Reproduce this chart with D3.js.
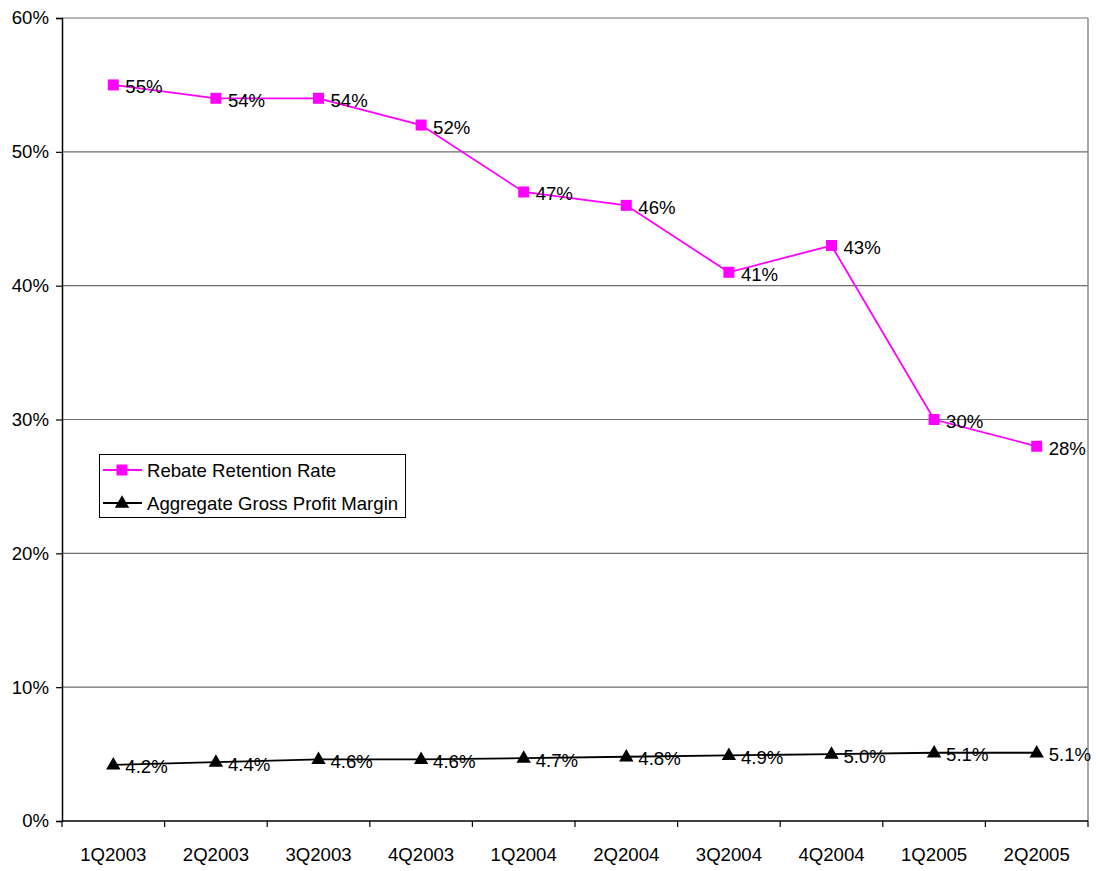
<!DOCTYPE html>
<html>
<head>
<meta charset="utf-8">
<script src="https://cdn.jsdelivr.net/npm/d3@7"></script>
<style>
  html, body { margin: 0; padding: 0; background: #fff; }
  svg { display: block; font-family: "Liberation Sans", Arial, sans-serif; }
</style>
</head>
<body>
<svg id="chart" width="1096" height="871"></svg>
<script>
// Quarterly periods
const quarters = ["1Q2003", "2Q2003", "3Q2003", "4Q2003", "1Q2004", "2Q2004", "3Q2004", "4Q2004", "1Q2005", "2Q2005"];
// Rebate retention rate (%)
const rebateRetention = [55, 54, 54, 52, 47, 46, 41, 43, 30, 28];
// Aggregate gross profit margin (%)
const grossMargin = [4.2, 4.4, 4.6, 4.6, 4.7, 4.8, 4.9, 5.0, 5.1, 5.1];
// Y axis ticks (%)
const yTicks = [0, 10, 20, 30, 40, 50, 60];
const seriesNames = ["Rebate Retention Rate", "Aggregate Gross Profit Margin"];

const svg = d3.select("#chart");
const plotLeft = 62, plotRight = 1088, plotTop = 18, plotBottom = 821;
const fontSize = 18.6;

const x = d3.scaleBand().domain(quarters).range([plotLeft, plotRight]);
const y = d3.scaleLinear().domain([0, 60]).range([plotBottom, plotTop]);

// horizontal gridlines
svg.append("g").selectAll("line").data(yTicks.filter(d => d > 0)).join("line")
  .attr("x1", plotLeft).attr("x2", plotRight)
  .attr("y1", d => y(d)).attr("y2", d => y(d))
  .attr("stroke", "#6e6e6e").attr("stroke-width", 1.2);

// right border
svg.append("line").attr("x1", plotRight).attr("x2", plotRight).attr("y1", plotTop).attr("y2", plotBottom)
  .attr("stroke", "#8a8a8a").attr("stroke-width", 1.5);

// Y axis
const yAxis = d3.axisLeft(y).tickValues(yTicks).tickFormat(d => d + "%").tickSize(6).tickPadding(7);
const gy = svg.append("g").attr("transform", `translate(${plotLeft},0)`).call(yAxis);
gy.select(".domain").attr("stroke", "#000").attr("stroke-width", 1.5);
gy.selectAll(".tick line").attr("stroke", "#000").attr("stroke-width", 1.2);
gy.selectAll(".tick text").attr("font-size", fontSize).attr("fill", "#000")
  .attr("font-family", "'Liberation Sans', Arial, sans-serif");

// X axis: ticks at category boundaries
const boundaries = quarters.map(q => x(q)).concat([plotRight]);
svg.append("line").attr("x1", plotLeft).attr("x2", plotRight).attr("y1", plotBottom).attr("y2", plotBottom)
  .attr("stroke", "#000").attr("stroke-width", 1.5);
svg.append("g").selectAll("line").data(boundaries).join("line")
  .attr("x1", d => d).attr("x2", d => d).attr("y1", plotBottom).attr("y2", plotBottom + 6)
  .attr("stroke", "#000").attr("stroke-width", 1.2);
svg.append("g").selectAll("text").data(quarters).join("text")
  .attr("x", d => x(d) + x.bandwidth() / 2).attr("y", 861)
  .attr("text-anchor", "middle").attr("font-size", fontSize).attr("fill", "#000")
  .text(d => d);

const cx = q => x(q) + x.bandwidth() / 2;
const line = d3.line().x(d => cx(d.q)).y(d => y(d.v));

function drawSeries(values, color, shape, fmt) {
  const data = quarters.map((q, i) => ({ q, v: values[i] }));
  const g = svg.append("g");
  g.append("path").datum(data).attr("d", line)
    .attr("fill", "none").attr("stroke", color).attr("stroke-width", 1.8);
  if (shape === "square") {
    g.selectAll("rect").data(data).join("rect")
      .attr("x", d => cx(d.q) - 5.5).attr("y", d => y(d.v) - 5.5)
      .attr("width", 11).attr("height", 11).attr("fill", color);
  } else {
    g.selectAll("path.m").data(data).join("path").attr("class", "m")
      .attr("d", d3.symbol(d3.symbolTriangle, 90))
      .attr("transform", d => `translate(${cx(d.q)},${y(d.v) + 0.5})`)
      .attr("fill", color);
  }
  g.selectAll("text").data(data).join("text")
    .attr("x", d => cx(d.q) + 12).attr("y", d => y(d.v) + 8.5)
    .attr("font-size", fontSize).attr("fill", "#000")
    .text(d => fmt(d.v));
}

drawSeries(rebateRetention, "#ff00ff", "square", v => v + "%");
drawSeries(grossMargin, "#000000", "triangle", v => v.toFixed(1) + "%");

// legend
const lg = svg.append("g");
lg.append("rect").attr("x", 99.5).attr("y", 454.5).attr("width", 306).attr("height", 63)
  .attr("fill", "#fff").attr("stroke", "#000").attr("stroke-width", 1);
const legendItems = [
  { name: seriesNames[0], color: "#ff00ff", shape: "square", yy: 470 },
  { name: seriesNames[1], color: "#000000", shape: "triangle", yy: 503 }
];
legendItems.forEach(it => {
  lg.append("line").attr("x1", 103).attr("x2", 142).attr("y1", it.yy).attr("y2", it.yy)
    .attr("stroke", it.color).attr("stroke-width", 1.8);
  if (it.shape === "square") {
    lg.append("rect").attr("x", 116.5).attr("y", it.yy - 5.5).attr("width", 11).attr("height", 11).attr("fill", it.color);
  } else {
    lg.append("path").attr("d", d3.symbol(d3.symbolTriangle, 90))
      .attr("transform", `translate(122,${it.yy + 0.5})`).attr("fill", it.color);
  }
  lg.append("text").attr("x", 147).attr("y", it.yy + 7).attr("font-size", fontSize).attr("fill", "#000")
    .attr("textLength", null)
    .text(it.name);
});
</script>
</body>
</html>
